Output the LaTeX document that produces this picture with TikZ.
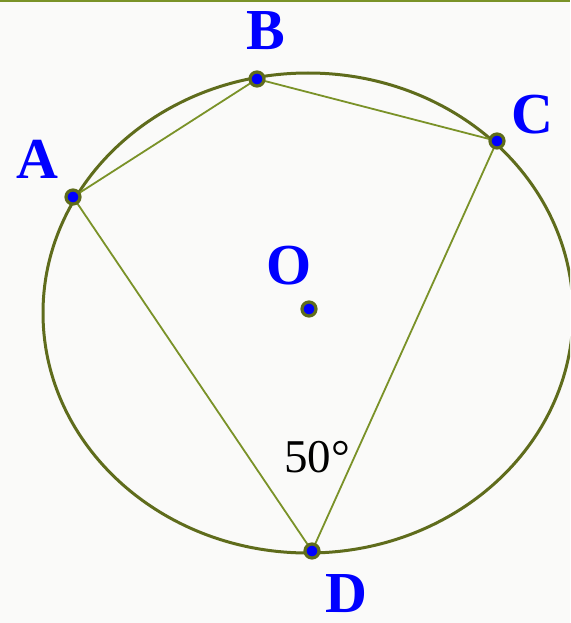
\documentclass[tikz,border=0pt]{standalone}
\usepackage{fontspec}
\setmainfont{Liberation Serif}
\definecolor{olivecirc}{RGB}{95,108,28}
\definecolor{oliveline}{RGB}{122,146,40}
\definecolor{paper}{RGB}{250,250,249}
\tikzset{
  ptlabel/.style={text=blue, font=\fontsize{58}{58}\selectfont\bfseries, inner sep=0pt},
  ptdot/.style={fill=blue, draw=olivecirc, line width=3.2pt}
}
\begin{document}
\begin{tikzpicture}[x=1pt, y=-1pt]
        % Page
        \fill[paper] (0,0) rectangle (570,623);
        \useasboundingbox (0,0) rectangle (570,623);
        \draw[oliveline, line width=2pt] (0,1) -- (570,1);

        % Points
        \coordinate (O) at (309,309);
        \coordinate (A) at (73,197);
        \coordinate (B) at (257,79);
        \coordinate (C) at (497,141);
        \coordinate (D) at (312,551);

        % Circle
        \begin{scope}
            \clip (0,0) rectangle (570,623);
            \draw[olivecirc, line width=3pt] (308,313) ellipse (265 and 240);
        \end{scope}

        % Quadrilateral
        \draw[oliveline, line width=1.8pt] (A) -- (B) -- (C) -- (D) -- cycle;

        % Angle label
        \node[font=\fontsize{47}{47}\selectfont, inner sep=0pt] (ang) at (317,457) {50°};

        % Point labels
        \node[ptlabel] (lA) at (37,159) {A};
        \node[ptlabel] (lB) at (266,31) {B};
        \node[ptlabel] (lC) at (532,115) {C};
        \node[ptlabel] (lO) at (289,266) {O};
        \node[ptlabel] (lD) at (346,594) {D};

        % Dots
        \foreach \p in {A, B, C, D, O} {
            \draw[ptdot] (\p) circle (7);
        }
    \end{tikzpicture}
\end{document}
